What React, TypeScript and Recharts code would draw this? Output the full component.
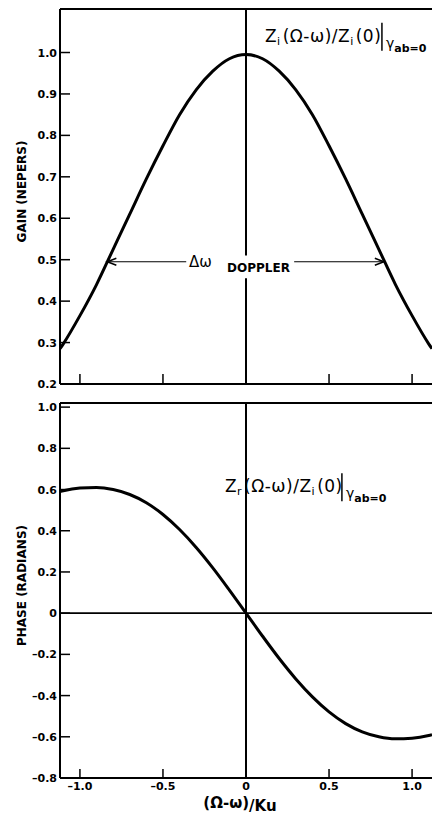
import React from 'react';
import { LineChart, Line, XAxis, YAxis, ReferenceLine, ReferenceDot } from 'recharts';

// (Ω-ω)/Ku
const detuning = [-1.12, -1.1, -1.0, -0.9, -0.8, -0.7, -0.6, -0.5, -0.4, -0.3, -0.2, -0.1, 0, 0.1, 0.2, 0.3, 0.4, 0.5, 0.6, 0.7, 0.8, 0.9, 1.0, 1.1, 1.12];
// gain (nepers)
const gain = [0.285, 0.297, 0.365, 0.44, 0.525, 0.61, 0.695, 0.775, 0.85, 0.91, 0.955, 0.985, 0.995, 0.985, 0.955, 0.91, 0.85, 0.775, 0.695, 0.61, 0.525, 0.44, 0.365, 0.297, 0.285];
// phase (radians)
const phase = [0.59, 0.594, 0.607, 0.61, 0.6, 0.576, 0.536, 0.479, 0.406, 0.319, 0.22, 0.112, 0, -0.112, -0.22, -0.319, -0.406, -0.479, -0.536, -0.576, -0.6, -0.61, -0.607, -0.594, -0.59];

const gainTicks = [0.2, 0.3, 0.4, 0.5, 0.6, 0.7, 0.8, 0.9, 1.0];
const phaseTicks = [-0.8, -0.6, -0.4, -0.2, 0, 0.2, 0.4, 0.6, 0.8, 1.0];
const xTicksTop = [-1, -0.5, 0.5, 1];
const xTicksBottom = [-1, -0.5, 0, 0.5, 1];

const gainData = detuning.map((x, i) => ({ x, v: gain[i] }));
const phaseData = detuning.map((x, i) => ({ x, v: phase[i] }));

const FONT = "'DejaVu Sans', sans-serif";
const X_DOMAIN: [number, number] = [-1.12, 1.12];
const GAIN_DOMAIN: [number, number] = [0.2, 1.105];
const PHASE_DOMAIN: [number, number] = [-0.8, 1.02];

const fmtNum = (v: number) => (v === 0 ? '0' : (v < 0 ? '\u2013' : '') + Math.abs(v).toFixed(1));

const XTickTop = (props: any) => {
  const { x, y } = props;
  return <line x1={x} y1={y} x2={x} y2={y - 10} stroke="#000" strokeWidth={1.5} />;
};

const XTickBottom = (props: any) => {
  const { x, y, payload } = props;
  return (
    <g>
      {payload.value !== 0 && <line x1={x} y1={y} x2={x} y2={y - 9} stroke="#000" strokeWidth={1.5} />}
      <text x={x} y={y + 12} textAnchor="middle" fontFamily={FONT} fontWeight="bold" fontSize={11} fill="#000">
        {fmtNum(payload.value)}
      </text>
    </g>
  );
};

const YTick = (props: any) => {
  const { x, y, payload } = props;
  return (
    <g>
      <line x1={x} y1={y} x2={x + 10} y2={y} stroke="#000" strokeWidth={1.5} />
      <text x={x - 3} y={y + 4} textAnchor="end" fontFamily={FONT} fontWeight="bold" fontSize={11} fill="#000">
        {fmtNum(payload.value)}
      </text>
    </g>
  );
};

const yTitle = (title: string) => (props: any) => {
  const vb = props.viewBox || {};
  const cy = vb.y + vb.height / 2 - 5;
  return (
    <text
      x={22}
      y={cy}
      transform={`rotate(-90, 22, ${cy})`}
      textAnchor="middle"
      dominantBaseline="central"
      fontFamily={FONT}
      fontWeight="bold"
      fontSize={12}
      fill="#000"
    >
      {title}
    </text>
  );
};

const xTitle = (props: any) => {
  const vb = props.viewBox || {};
  const cx = vb.x + vb.width / 2 - 6;
  const y = vb.y + 30;
  return (
    <text x={cx} y={y} textAnchor="middle" fontFamily={FONT} fontWeight="bold" fontSize={15} fill="#000">
      (Ω-ω)
      <tspan dy={3}>/Ku</tspan>
    </text>
  );
};

const arrowShape = (props: any) => {
  const { x1, y1, x2, y2 } = props;
  const dir = Math.sign(x1 - x2) || 1;
  return (
    <g>
      <line x1={x1} y1={y1} x2={x2} y2={y2} stroke="#000" strokeWidth={1.2} />
      <polyline
        points={`${x1 - dir * 9},${y1 - 3.5} ${x1},${y1} ${x1 - dir * 9},${y1 + 3.5}`}
        fill="none"
        stroke="#000"
        strokeWidth={1.5}
      />
    </g>
  );
};

const formulaShape = (sub: string) => (props: any) => {
  const { cx, cy } = props;
  return (
    <g>
      <text x={cx} y={cy} fontFamily={FONT} fontSize={17} letterSpacing={0.5} fill="#000">
        Z<tspan fontSize={11} dy={3}>{sub}</tspan>
        <tspan dy={-3} dx={2}>(Ω-ω)/Z</tspan>
        <tspan fontSize={11} dy={3}>i</tspan>
        <tspan dy={-3} dx={2}>(0)</tspan>
      </text>
      <line x1={cx + 117} y1={cy - 19} x2={cx + 117} y2={cy + 9} stroke="#000" strokeWidth={1.5} />
      <text x={cx + 121} y={cy + 6} fontFamily={FONT} fontSize={14} fill="#000">
        γ<tspan fontSize={11} fontWeight="bold" dy={4}>ab=0</tspan>
      </text>
    </g>
  );
};

const textShape = (label: string, size: number, weight: string) => (props: any) => {
  const { cx, cy } = props;
  return (
    <text x={cx} y={cy} fontFamily={FONT} fontSize={size} fontWeight={weight} fill="#000">
      {label}
    </text>
  );
};

export default function App() {
  return (
    <div style={{ position: 'absolute', left: 0, top: 0, width: 432, height: 816, background: '#fff' }}>
      <div style={{ position: 'absolute', left: 0, top: 0 }}>
        <LineChart width={432} height={400} data={gainData} margin={{ top: 9, right: 0, left: 0, bottom: 0 }}>
          <XAxis
            dataKey="x"
            type="number"
            domain={X_DOMAIN}
            allowDataOverflow
            ticks={xTicksTop}
            height={16}
            tickSize={0}
            tickMargin={0}
            tickLine={false}
            tick={XTickTop}
            axisLine={{ stroke: '#000', strokeWidth: 2 }}
          />
          <YAxis
            type="number"
            domain={GAIN_DOMAIN}
            allowDataOverflow
            ticks={gainTicks}
            width={60}
            tickSize={0}
            tickMargin={0}
            tickLine={false}
            tick={YTick}
            axisLine={{ stroke: '#000', strokeWidth: 2 }}
            label={{ content: yTitle('GAIN (NEPERS)') }}
          />
          <ReferenceLine y={GAIN_DOMAIN[1]} stroke="#000" strokeWidth={2} />
          <ReferenceLine segment={[{ x: 0, y: 0.2 }, { x: 0, y: 0.455 }]} stroke="#000" strokeWidth={2} />
          <ReferenceLine segment={[{ x: 0, y: 0.51 }, { x: 0, y: GAIN_DOMAIN[1] }]} stroke="#000" strokeWidth={2} />
          <ReferenceLine segment={[{ x: -0.835, y: 0.495 }, { x: -0.36, y: 0.495 }]} shape={arrowShape} />
          <ReferenceLine segment={[{ x: 0.83, y: 0.495 }, { x: 0.29, y: 0.495 }]} shape={arrowShape} />
          <ReferenceDot x={-0.343} y={0.483} r={0} shape={textShape('Δω', 15, 'normal')} />
          <ReferenceDot x={-0.114} y={0.47} r={0} shape={textShape('DOPPLER', 12, 'bold')} />
          <ReferenceDot x={0.114} y={1.026} r={0} shape={formulaShape('i')} />
          <Line dataKey="v" type="monotone" stroke="#000" strokeWidth={3} dot={false} isAnimationActive={false} />
        </LineChart>
      </div>
      <div style={{ position: 'absolute', left: 0, top: 390 }}>
        <LineChart width={432} height={426} data={phaseData} margin={{ top: 13, right: 0, left: 0, bottom: 0 }}>
          <XAxis
            dataKey="x"
            type="number"
            domain={X_DOMAIN}
            allowDataOverflow
            ticks={xTicksBottom}
            height={38}
            tickSize={0}
            tickMargin={0}
            tickLine={false}
            tick={XTickBottom}
            axisLine={{ stroke: '#000', strokeWidth: 2 }}
            label={{ content: xTitle }}
          />
          <YAxis
            type="number"
            domain={PHASE_DOMAIN}
            allowDataOverflow
            ticks={phaseTicks}
            width={60}
            tickSize={0}
            tickMargin={0}
            tickLine={false}
            tick={YTick}
            axisLine={{ stroke: '#000', strokeWidth: 2 }}
            label={{ content: yTitle('PHASE (RADIANS)') }}
          />
          <ReferenceLine y={PHASE_DOMAIN[1]} stroke="#000" strokeWidth={2} />
          <ReferenceLine x={0} stroke="#000" strokeWidth={2} />
          <ReferenceLine y={0} stroke="#000" strokeWidth={1.8} />
          <ReferenceDot x={-0.127} y={0.587} r={0} shape={formulaShape('r')} />
          <Line dataKey="v" type="monotone" stroke="#000" strokeWidth={3} dot={false} isAnimationActive={false} />
        </LineChart>
      </div>
    </div>
  );
}
